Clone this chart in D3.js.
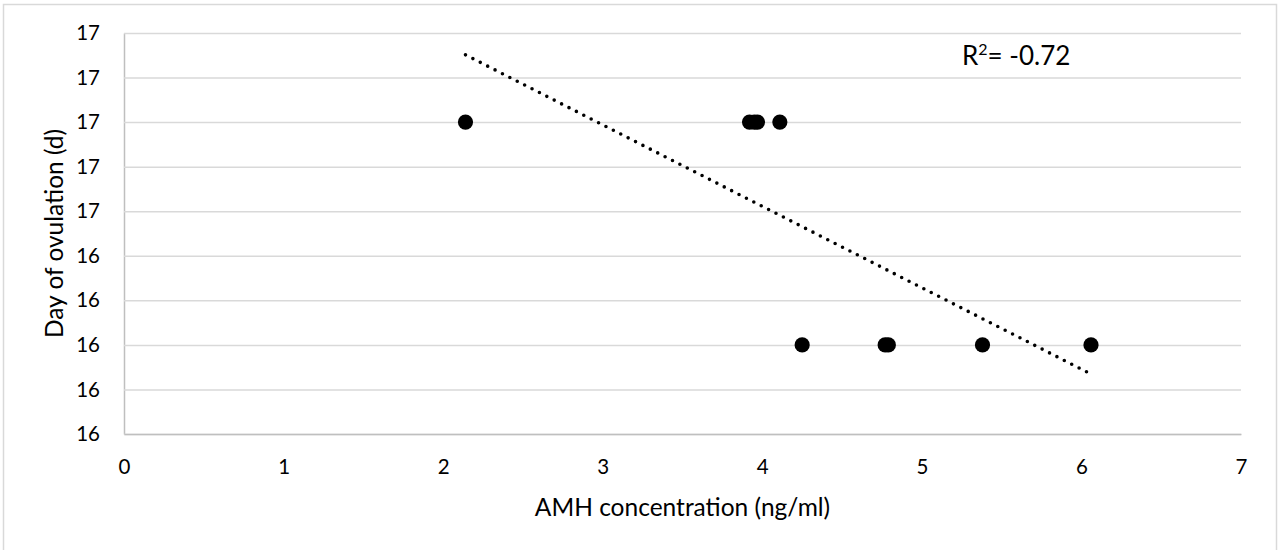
<!DOCTYPE html>
<html>
<head>
<meta charset="utf-8">
<script src="https://cdn.jsdelivr.net/npm/d3@7"></script>
<style>
    body { margin: 0; background: #ffffff; }
    text { font-family: Lato, "Open Sans", sans-serif; fill: #000000; }
</style>
</head>
<body>
<script>
// 数据：AMH 浓度与排卵日
const amhValues = [2.14, 3.92, 3.95, 3.97, 4.11, 4.25, 4.77, 4.79, 5.38, 6.06];
const ovulationDays = [16.7, 16.7, 16.7, 16.7, 16.7, 16.2, 16.2, 16.2, 16.2, 16.2];
const xTickValues = [0, 1, 2, 3, 4, 5, 6, 7];
const yTickValues = [16.0, 16.1, 16.2, 16.3, 16.4, 16.5, 16.6, 16.7, 16.8, 16.9];
const yTickLabels = ['16', '16', '16', '16', '16', '17', '17', '17', '17', '17'];
const rLabel = '-0.72';

const svgWidth = 1278, svgHeight = 550;
const plot = {left: 124, right: 1241, top: 33, bottom: 434};

const svg = d3.select('body')
    .append('svg')
    .attr('width', svgWidth)
    .attr('height', svgHeight);

// 外框
svg.append('rect')
    .attr('x', 3.5).attr('y', 4.5)
    .attr('width', 1273).attr('height', 560)
    .attr('fill', 'none')
    .attr('stroke', '#d9d9d9')
    .attr('stroke-width', 1.5);

// 比例尺
const x = d3.scaleLinear().domain([0, 7]).range([plot.left, plot.right]);
const y = d3.scaleLinear().domain([16.0, 16.9]).range([plot.bottom, plot.top]);

// 纵轴 + 网格线
const yAxis = svg.append('g')
    .attr('transform', `translate(${plot.left},0)`)
    .call(d3.axisLeft(y)
        .tickValues(yTickValues)
        .tickFormat((d, i) => yTickLabels[i])
        .tickSizeInner(-(plot.right - plot.left))
        .tickSizeOuter(0)
        .tickPadding(24));
yAxis.select('.domain').attr('stroke', '#bfbfbf').attr('stroke-width', 1.5);
yAxis.selectAll('.tick line').attr('stroke', '#d9d9d9').attr('stroke-width', 1.5);
yAxis.selectAll('.tick text').style('font-size', '20.5px');

// 横轴
const xAxis = svg.append('g')
    .attr('transform', `translate(0,${plot.bottom})`)
    .call(d3.axisBottom(x)
        .tickValues(xTickValues)
        .tickFormat(d3.format('d'))
        .tickSize(0)
        .tickPadding(25));
xAxis.select('.domain').attr('stroke', '#bfbfbf').attr('stroke-width', 1.5);
xAxis.selectAll('.tick text').style('font-size', '20.5px');

// 轴标题
svg.append('text')
    .attr('x', (plot.left + plot.right) / 2)
    .attr('y', 516)
    .attr('text-anchor', 'middle')
    .style('font-size', '24.5px')
    .text('AMH concentration (ng/ml)');

svg.append('text')
    .attr('transform', `translate(63,${(plot.top + plot.bottom) / 2}) rotate(-90)`)
    .attr('text-anchor', 'middle')
    .style('font-size', '24.5px')
    .text('Day of ovulation (d)');

// 线性趋势线（最小二乘）
const mx = d3.mean(amhValues), my = d3.mean(ovulationDays);
const sxy = d3.sum(amhValues, (v, i) => (v - mx) * (ovulationDays[i] - my));
const sxx = d3.sum(amhValues, v => (v - mx) * (v - mx));
const slope = sxy / sxx;
const fit = v => my + slope * (v - mx);
const [xMin, xMax] = d3.extent(amhValues);

svg.append('line')
    .attr('x1', x(xMin)).attr('y1', y(fit(xMin)))
    .attr('x2', x(xMax)).attr('y2', y(fit(xMax)))
    .attr('stroke', '#000000')
    .attr('stroke-width', 3.6)
    .attr('stroke-linecap', 'round')
    .attr('stroke-dasharray', '0 8.3');

// 散点
svg.append('g')
    .selectAll('circle')
    .data(amhValues)
    .join('circle')
    .attr('cx', d => x(d))
    .attr('cy', (d, i) => y(ovulationDays[i]))
    .attr('r', 7.6)
    .attr('fill', '#000000');

// 相关系数标注
const label = svg.append('text')
    .attr('x', 962)
    .attr('y', 65)
    .style('font-size', '26px');
label.append('tspan').text('R');
label.append('tspan').attr('dy', -10).style('font-size', '16px').text('2');
label.append('tspan').attr('dy', 10).text(`= ${rLabel}`);
</script>
</body>
</html>
